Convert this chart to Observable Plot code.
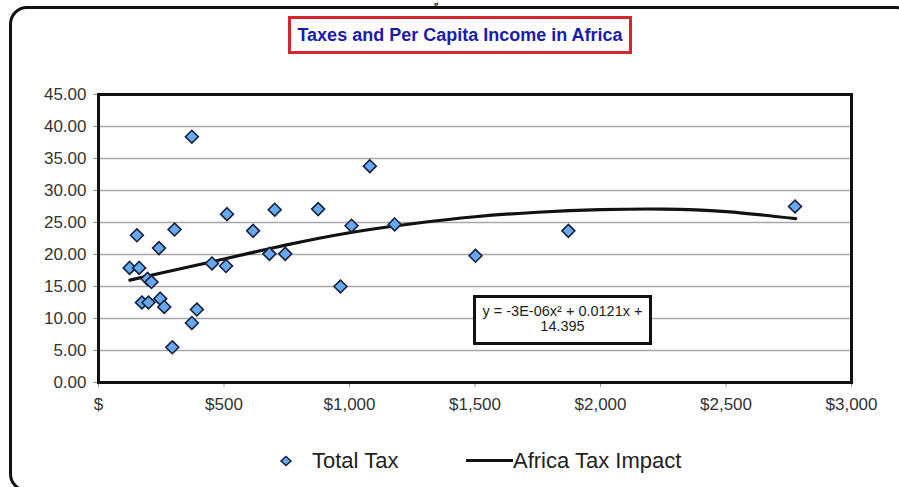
<!DOCTYPE html>
<html>
<head>
<meta charset="utf-8">
<script src="https://cdn.jsdelivr.net/npm/d3@7"></script>
<script src="https://cdn.jsdelivr.net/npm/@observablehq/plot@0.6"></script>
<style>
  html, body { margin: 0; padding: 0; background: #fff; width: 899px; height: 487px; overflow: hidden; }
  body { position: relative; font-family: "Liberation Sans", Arial, sans-serif; }
  #frame { position: absolute; left: 9px; top: 6px; width: 905px; height: 486px; border: 3px solid #111; border-radius: 18px; box-sizing: border-box; }
  #cut { position: absolute; left: 434px; top: 0px; font-family: "Liberation Serif", serif; font-weight: bold; font-size: 9px; line-height: 9px; color: #111; }
  #title { position: absolute; left: 288px; top: 16px; width: 344px; height: 38px; border: 3px solid #d4262c; box-sizing: border-box;
           display: flex; align-items: center; justify-content: center; font-weight: bold; font-size: 18px; color: #1b1bb0; white-space: nowrap; background: #fff; }
  #chart { position: absolute; left: 0; top: 60px; }
  #eq { position: absolute; left: 473px; top: 295px; width: 179px; height: 50px; border: 3px solid #111; box-sizing: border-box; background: #fff;
        text-align: center; font-size: 14.5px; line-height: 15px; color: #222; padding-top: 6px; white-space: nowrap; }
  #legend { position: absolute; left: 0; top: 446px; width: 899px; height: 30px; font-size: 22px; color: #222; }
  .li { position: absolute; top: 0; height: 30px; line-height: 30px; white-space: nowrap; }
</style>
</head>
<body>
<div id="frame"></div>
<div id="cut">g</div>
<div id="title">Taxes and Per Capita Income in Africa</div>
<div id="chart"></div>
<div id="eq">y = -3E-06x² + 0.0121x +<br>14.395</div>
<div id="legend"></div>
<script>
// Per capita income (US$) of each country
const income = [124, 162, 153, 372, 241, 303, 195, 211, 173, 199, 246, 262, 294, 372, 392,
                452, 508, 512, 616, 681, 702, 744, 875, 964, 1008, 1081, 1180, 1502, 1872, 2775];
// Total tax (% of GDP) of each country
const totalTax = [17.9, 17.9, 23.0, 38.4, 21.0, 23.9, 16.2, 15.7, 12.5, 12.5, 13.1, 11.8, 5.5, 9.3, 11.4,
                  18.6, 18.2, 26.3, 23.7, 20.1, 27.0, 20.1, 27.1, 15.0, 24.5, 33.8, 24.7, 19.8, 23.7, 27.5];
// Trend line ("Africa Tax Impact")
const trendIncome = [125, 250, 500, 750, 1000, 1250, 1500, 1750, 2000, 2250, 2500, 2778];
const trendTax    = [16.0, 17.1, 19.3, 21.5, 23.4, 24.8, 25.9, 26.6, 27.0, 27.1, 26.7, 25.6];
// Axis ticks
const xTicks = [0, 500, 1000, 1500, 2000, 2500, 3000];
const yTicks = [0, 5, 10, 15, 20, 25, 30, 35, 40, 45];
const seriesNames = ["Total Tax", "Africa Tax Impact"];

const points = income.map((x, i) => ({x, y: totalTax[i]}));
const trend = trendIncome.map((x, i) => ({x, y: trendTax[i]}));

const ptFill = "#6aa8ee", ptStroke = "#13233f";
const xFmt = d => d === 0 ? "$" : "$" + d3.format(",")(d);

const chart = Plot.plot({
  width: 899,
  height: 360,
  marginTop: 34,
  marginBottom: 38,
  marginLeft: 98,
  marginRight: 48,
  style: {fontFamily: "'Liberation Sans', Arial, sans-serif", fontSize: "17px", color: "#333", background: "transparent"},
  x: {domain: [0, 3000], label: null},
  y: {domain: [0, 45], label: null},
  marks: [
    Plot.gridY(yTicks, {stroke: "#a8a8a8", strokeOpacity: 1, strokeWidth: 1.3}),
    Plot.axisX({ticks: xTicks, tickFormat: xFmt, tickSize: 5, tickPadding: 10, stroke: "#999", label: null}),
    Plot.axisY({ticks: yTicks, tickFormat: d3.format(".2f"), tickSize: 5, tickPadding: 7, stroke: "#999", label: null}),
    Plot.line(trend, {x: "x", y: "y", curve: "natural", stroke: "#111", strokeWidth: 3.2}),
    Plot.dot(points, {x: "x", y: "y", symbol: "diamond2", r: 5.8, fill: ptFill, stroke: ptStroke, strokeWidth: 1.6}),
    Plot.frame({stroke: "#111", strokeWidth: 3})
  ]
});
document.getElementById("chart").appendChild(chart);

// Legend
const legend = document.getElementById("legend");
const l1 = document.createElement("div");
l1.className = "li";
l1.style.left = "278px";
l1.innerHTML = `<svg width="16" height="30" style="vertical-align:top"><path d="M8 10.5 L13 15 L8 19.5 L3 15 Z" fill="${ptFill}" stroke="${ptStroke}" stroke-width="1.5"/></svg>` +
  `<span style="position:absolute;left:34px">${seriesNames[0]}</span>`;
legend.appendChild(l1);
const l2 = document.createElement("div");
l2.className = "li";
l2.style.left = "466px";
l2.innerHTML = `<svg width="47" height="30" style="vertical-align:top"><line x1="0" x2="47" y1="14.5" y2="14.5" stroke="#111" stroke-width="3"/></svg>` +
  `<span style="position:absolute;left:47px">${seriesNames[1]}</span>`;
legend.appendChild(l2);
</script>
</body>
</html>
